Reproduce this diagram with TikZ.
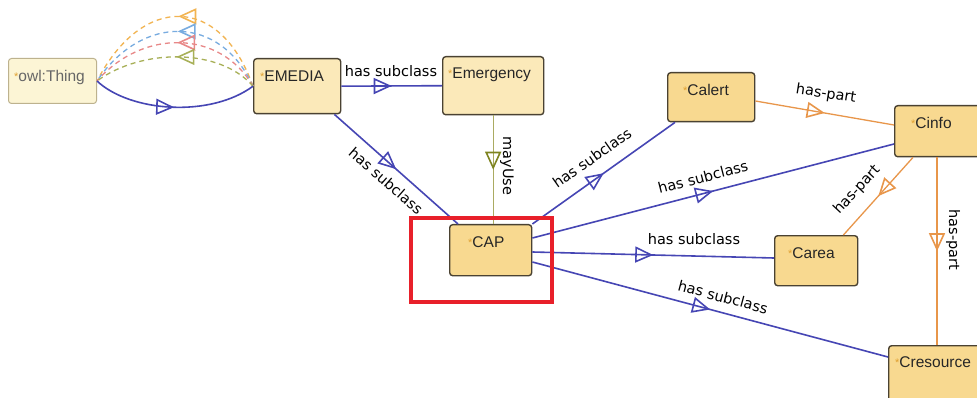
\documentclass[tikz,border=0pt]{standalone}
\usepackage{fontspec}
\setmainfont{Liberation Sans}
\newfontfamily\lblfont{DejaVu Sans}
\usetikzlibrary{arrows.meta,decorations.markings,calc}
\definecolor{thingfill}{HTML}{FCF5D5}
\definecolor{thingdraw}{HTML}{BDB28E}
\definecolor{lightfill}{HTML}{FBE9B9}
\definecolor{darkfill}{HTML}{F8D990}
\definecolor{boxdraw}{HTML}{4A4232}
\definecolor{subblue}{HTML}{4646B4}
\definecolor{partorange}{HTML}{E8964A}
\definecolor{useolive}{HTML}{ABAB62}
\definecolor{useolivedark}{HTML}{7E8420}
\definecolor{starorange}{HTML}{E0A030}
\definecolor{hlred}{HTML}{E8202A}
\definecolor{dorange}{HTML}{F2B452}
\definecolor{dblue}{HTML}{78ACE0}
\definecolor{dred}{HTML}{E88888}
\definecolor{dgreen}{HTML}{A8B058}
\newcommand{\clsname}[1]{{\color{starorange}\fontsize{11}{11}\selectfont\raisebox{1pt}{*}}#1}
\tikzset{
  clsbox/.style={draw=boxdraw, line width=1.4pt, rounded corners=3pt, inner sep=0pt, anchor=north west},
  lightbox/.style={clsbox, fill=lightfill},
  darkbox/.style={clsbox, fill=darkfill},
  thingbox/.style={clsbox, fill=thingfill, draw=thingdraw, line width=1pt},
  clstext/.style={anchor=west, inner sep=0pt, font=\fontsize{15.5}{17}\selectfont, text=black!85},
  elabel/.style={inner sep=0pt, font=\lblfont\fontsize{14.5}{16}\selectfont, text=black},
  midarrow/.style 2 args={postaction={decorate}, decoration={markings,
      mark=at position #1 with {\arrow{Triangle[open,length=18pt,width=16pt,line width=1.6pt,#2]}}}},
  subedge/.style={draw=subblue, line width=1.6pt, midarrow={0.5}{color=subblue}},
  partedge/.style={draw=partorange, line width=1.3pt, midarrow={0.5}{color=partorange}},
  useedge/.style={draw=useolive, line width=1.3pt, midarrow={0.5}{color=useolivedark}},
  darc/.style={draw=#1, line width=1.3pt, dash pattern=on 5pt off 4pt, midarrow={0.5}{color=#1}},
}
\begin{document}
\begin{tikzpicture}[x=1pt, y=-1pt]
\clip (0,0) rectangle (977,398);
\fill[white] (0,0) rectangle (977,398);
% class boxes
\node[thingbox, minimum width=88, minimum height=45] (owl) at (8,58) {};
\node[lightbox, minimum width=87, minimum height=55] (emedia) at (253,58) {};
\node[lightbox, minimum width=101, minimum height=58] (emergency) at (442,56) {};
\node[darkbox, minimum width=82, minimum height=51] (cap) at (449,224) {};
\node[darkbox, minimum width=87, minimum height=49] (calert) at (667,72) {};
\node[darkbox, minimum width=100, minimum height=51] (cinfo) at (894,105) {};
\node[darkbox, minimum width=83, minimum height=50] (carea) at (774,235) {};
\node[darkbox, minimum width=104, minimum height=60] (cresource) at (888,345) {};
% class names
\node[clstext, text=black!60] (owlt) at (14,77) {\clsname{owl:Thing}};
\node[clstext] (emediat) at (260,76) {\clsname{EMEDIA}};
\node[clstext] (emergencyt) at (448,75) {\clsname{Emergency}};
\node[clstext] (capt) at (468,242) {\clsname{CAP}};
\node[clstext] (calertt) at (683,90) {\clsname{Calert}};
\node[clstext] (cinfot) at (911,123) {\clsname{Cinfo}};
\node[clstext] (careat) at (788,253) {\clsname{Carea}};
\node[clstext] (cresourcet) at (895,362) {\clsname{Cresource}};
% dashed arcs EMEDIA -> owl:Thing
\draw[darc=dorange] (emedia.west) .. controls (220,-6) and (142,-6) .. (owl.east);
\draw[darc=dblue] (emedia.west) .. controls (220,14) and (142,14) .. (owl.east);
\draw[darc=dred] (emedia.west) .. controls (220,29) and (142,29) .. (owl.east);
\draw[darc=dgreen] (emedia.west) .. controls (220,48) and (142,48) .. (owl.east);
% owl:Thing -> EMEDIA
\draw[subedge] (owl.east) .. controls (130,112) and (210,118) .. (emedia.west);
% EMEDIA edges
\draw[subedge] (emedia.east) -- (emergency.west);
\draw[subedge] ([xshift=-7]emedia.south east) -- ([xshift=9]cap.north west);
\draw[useedge] (emergency.south) -- (emergency.south |- cap.north);
% CAP edges
\draw[subedge] (cap.north east) -- ([xshift=8]calert.south west);
\draw[subedge] ([yshift=-14]cap.north east) -- ([yshift=-39]cinfo.north west);
\draw[subedge] ([yshift=-28]cap.north east) -- ([yshift=-23]carea.north west);
\draw[subedge] ([yshift=-38]cap.north east) -- ([yshift=-12]cresource.north west);
% has-part edges
\draw[partedge] ([yshift=-29]calert.north east) -- ([yshift=-20]cinfo.north west);
\draw[partedge] ([xshift=19]cinfo.south west) -- ([xshift=-15]carea.north east);
\draw[partedge] ([xshift=43]cinfo.south west) -- ([xshift=43]cinfo.south west |- cresource.north);
% edge labels
\node[elabel] (l1) at (391,71) {has subclass};
\node[elabel, rotate=-41] (l2) at (386,181) {has subclass};
\node[elabel, rotate=-90] (l3) at (507,166) {mayUse};
\node[elabel, rotate=35] (l4) at (592,158) {has subclass};
\node[elabel, rotate=14.5] (l5) at (703,177) {has subclass};
\node[elabel] (l6) at (694,239) {has subclass};
\node[elabel, rotate=-15] (l7) at (723,297) {has subclass};
\node[elabel, rotate=-9] (l8) at (826,94) {has-part};
\node[elabel, rotate=47] (l9) at (857,190) {has-part};
\node[elabel, rotate=-90] (l10) at (953,240) {has-part};
% highlight
\node[draw=hlred, line width=4pt, inner sep=0pt, minimum width=141, minimum height=84, anchor=north west] (hl) at (409,216) {};
\end{tikzpicture}
\end{document}
